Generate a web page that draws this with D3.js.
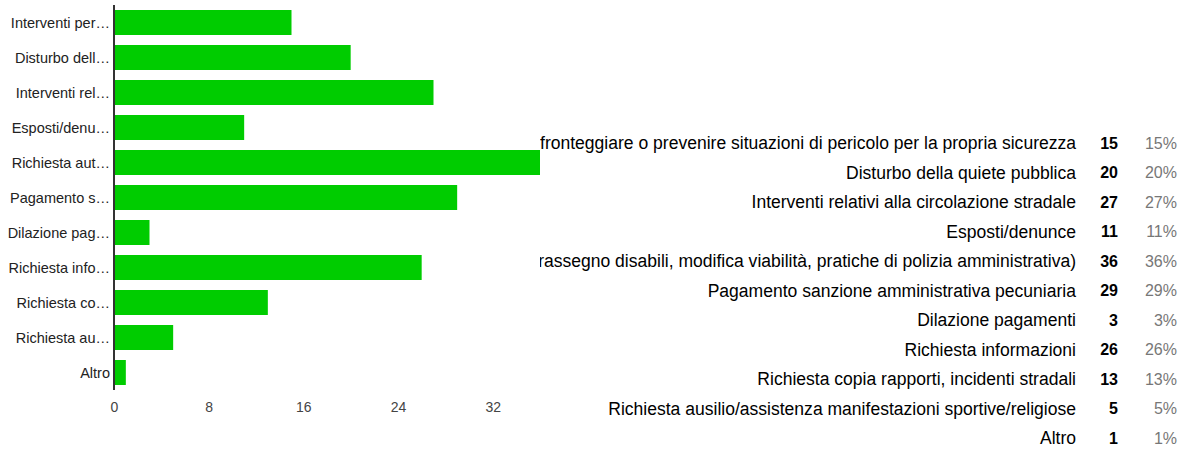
<!DOCTYPE html>
<html>
<head>
<meta charset="utf-8">
<script src="https://d3js.org/d3.v7.min.js"></script>
<style>
  body { margin: 0; background: #fff; }
  svg { display: block; font-family: "Liberation Sans", Arial, sans-serif; }
</style>
</head>
<body>
<svg id="chart" width="1185" height="450"></svg>
<script>
// risposte (etichette complete, come nella tabella)
const categories = [
  'Interventi per fronteggiare o prevenire situazioni di pericolo per la propria sicurezza',
  'Disturbo della quiete pubblica',
  'Interventi relativi alla circolazione stradale',
  'Esposti/denunce',
  'Richiesta autorizzazioni (passo carrabile, contrassegno disabili, modifica viabilità, pratiche di polizia amministrativa)',
  'Pagamento sanzione amministrativa pecuniaria',
  'Dilazione pagamenti',
  'Richiesta informazioni',
  'Richiesta copia rapporti, incidenti stradali',
  'Richiesta ausilio/assistenza manifestazioni sportive/religiose',
  'Altro'
];
// etichette troncate sull'asse
const shortLabels = [
  'Interventi per…', 'Disturbo dell…', 'Interventi rel…', 'Esposti/denu…',
  'Richiesta aut…', 'Pagamento s…', 'Dilazione pag…', 'Richiesta info…',
  'Richiesta co…', 'Richiesta au…', 'Altro'
];
const counts = [15, 20, 27, 11, 36, 29, 3, 26, 13, 5, 1];
const percents = [15, 20, 27, 11, 36, 29, 3, 26, 13, 5, 1];
const xTicks = [0, 8, 16, 24, 32];

const svg = d3.select('#chart');

// Tabella a destra (disegnata prima, poi coperta dal grafico)
const rowY = d3.scalePoint().domain(d3.range(categories.length)).range([143, 438]);
const table = svg.append('g');
table.selectAll('.lbl').data(categories).enter().append('text')
  .attr('x', 1076).attr('y', (d, i) => rowY(i)).attr('dy', '0.35em')
  .attr('text-anchor', 'end').attr('fill', '#000').style('font-size', '17.55px')
  .text(d => d);
table.selectAll('.cnt').data(counts).enter().append('text')
  .attr('x', 1118).attr('y', (d, i) => rowY(i)).attr('dy', '0.35em')
  .attr('text-anchor', 'end').attr('fill', '#000').style('font-size', '16px').style('font-weight', 'bold')
  .text(d => d);
table.selectAll('.pct').data(percents).enter().append('text')
  .attr('x', 1177).attr('y', (d, i) => rowY(i)).attr('dy', '0.35em')
  .attr('text-anchor', 'end').attr('fill', '#777').style('font-size', '16px')
  .text(d => d + '%');

// Area grafico (sfondo bianco che copre la tabella)
svg.append('rect').attr('x', 0).attr('y', 0).attr('width', 540).attr('height', 450).attr('fill', '#fff');

const x = d3.scaleLinear().domain([0, 36]).range([114, 540]);
const y = d3.scaleBand().domain(d3.range(categories.length)).range([5, 390]).paddingInner(0.286).paddingOuter(0.143);

svg.selectAll('.bar').data(counts).enter().append('rect')
  .attr('x', x(0)).attr('y', (d, i) => y(i))
  .attr('width', d => x(d) - x(0)).attr('height', y.bandwidth())
  .attr('fill', '#00cc00');

// Asse Y
svg.selectAll('.ylab').data(shortLabels).enter().append('text')
  .attr('x', 110).attr('y', (d, i) => y(i) + y.bandwidth() / 2).attr('dy', '0.35em')
  .attr('text-anchor', 'end').attr('fill', '#222').style('font-size', '14.5px')
  .text(d => d);

svg.append('line').attr('x1', x(0)).attr('x2', x(0)).attr('y1', 5).attr('y2', 390)
  .attr('stroke', '#333').attr('stroke-width', 2);

// Asse X
const xAxis = svg.append('g').attr('transform', 'translate(0,390)')
  .call(d3.axisBottom(x).tickValues(xTicks).tickSize(0).tickPadding(12));
xAxis.select('.domain').remove();
xAxis.selectAll('text').attr('fill', '#444').style('font-size', '14px').style('font-family', '"Liberation Sans", Arial, sans-serif');
</script>
</body>
</html>
